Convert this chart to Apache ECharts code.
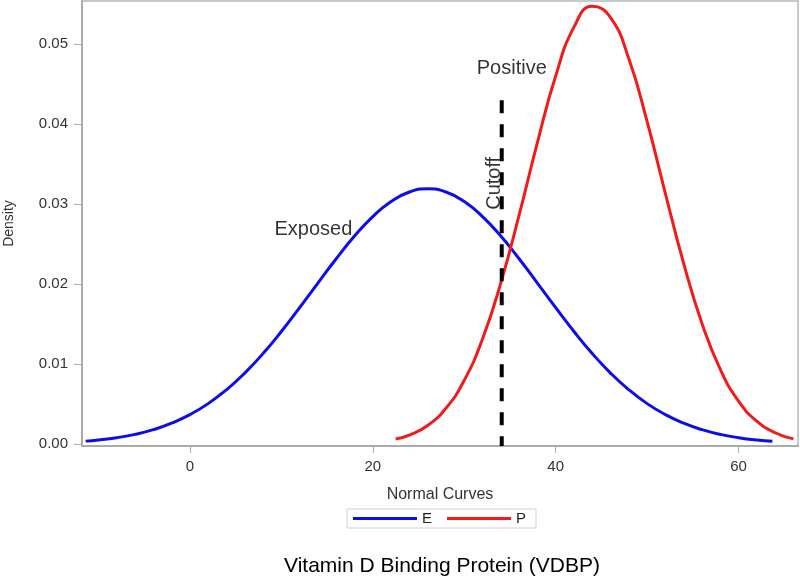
<!DOCTYPE html>
<html>
<head>
<meta charset="utf-8">
<script src="https://cdn.jsdelivr.net/npm/echarts@6/dist/echarts.min.js"></script>
<style>
html,body{margin:0;padding:0;background:#fff;}
#chart{width:800px;height:576px;}
</style>
</head>
<body>
<div id="chart"></div>
<script>
// ---- data ----
const eX = [-11.4, -10, -8, -6, -4, -2, 0, 2, 4, 6, 8, 10, 12, 14, 16, 18, 20, 22, 24, 26, 28, 30, 32, 34, 36, 38, 40, 42, 44, 46, 48, 50, 52, 54, 56, 58, 60, 62, 63.7];
const eY = [0.00036, 0.00050, 0.00079, 0.00120, 0.00179, 0.00260, 0.00367, 0.00505, 0.00678, 0.00887, 0.01131, 0.01407, 0.01705, 0.02013, 0.02317, 0.02600, 0.02844, 0.03032, 0.03151, 0.03191, 0.03151, 0.03032, 0.02844, 0.02600, 0.02317, 0.02013, 0.01705, 0.01407, 0.01131, 0.00887, 0.00678, 0.00505, 0.00367, 0.00260, 0.00179, 0.00120, 0.00079, 0.00050, 0.00034];
const pX = [22.5, 24, 26, 28, 30, 32, 34, 36, 38, 40, 42, 44, 46, 48, 50, 52, 54, 56, 58, 60, 62, 64, 66];
const pY = [0.00062, 0.00112, 0.00232, 0.00447, 0.00796, 0.01314, 0.02014, 0.02861, 0.03770, 0.04602, 0.05213, 0.05475, 0.05333, 0.04817, 0.04033, 0.03132, 0.02257, 0.01507, 0.00933, 0.00535, 0.00285, 0.00141, 0.00064];
const cutoffX = 34.1;
const cutoffTop = 0.043;
const xTicks = [0, 20, 40, 60];
const yTicks = [0, 0.01, 0.02, 0.03, 0.04, 0.05];
const seriesNames = ['E', 'P'];
const annotations = [
  { text: 'Exposed', x: 13.5, y: 0.0268, rotate: 0 },
  { text: 'Positive', x: 35.2, y: 0.0470, rotate: 0 },
  { text: 'Cutoff', x: 33.3, y: 0.0326, rotate: 90 }
];
const titleText = 'Vitamin D Binding Protein (VDBP)';
const xAxisName = 'Normal Curves';
const yAxisName = 'Density';

// ---- chart ----
const FONT = '"Liberation Sans", Arial, sans-serif';
const chart = echarts.init(document.getElementById('chart'), null, { renderer: 'canvas' });
const zip = (xs, ys) => xs.map((x, i) => [x, ys[i]]);

const option = {
  animation: false,
  backgroundColor: '#ffffff',
  textStyle: { fontFamily: FONT },
  title: {
    text: titleText,
    left: 437,
    top: 551,
    textAlign: 'center',
    textStyle: { fontFamily: FONT, fontSize: 21, fontWeight: 'normal', color: '#000' }
  },
  legend: {
    data: seriesNames,
    left: 347,
    top: 509,
    orient: 'horizontal',
    icon: 'rect',
    itemWidth: 64,
    itemHeight: 3,
    itemGap: 15,
    padding: [2, 10, 2, 6],
    borderColor: '#d0d0d0',
    borderWidth: 1,
    textStyle: { fontFamily: FONT, fontSize: 15, color: '#222' }
  },
  grid: {
    left: 82, right: 2, top: 1, bottom: 130,
    containLabel: false,
    outerBoundsMode: 'none',
    show: true,
    borderColor: '#c6caca',
    borderWidth: 2,
    backgroundColor: '#fff'
  },
  xAxis: {
    type: 'value',
    min: -11.8,
    max: 66.5,
    name: xAxisName,
    nameLocation: 'middle',
    nameGap: 41,
    nameTextStyle: { fontFamily: FONT, fontSize: 16, color: '#333' },
    splitLine: { show: false },
    axisLine: { show: true, onZero: false, lineStyle: { color: '#a8acac', width: 2 } },
    axisTick: { show: true, customValues: xTicks, length: 7, lineStyle: { color: '#a8acac', width: 1 } },
    axisLabel: { customValues: xTicks, margin: 13, fontFamily: FONT, fontSize: 15, color: '#333' }
  },
  yAxis: {
    type: 'value',
    min: -0.00025,
    max: 0.0554,
    name: yAxisName,
    nameLocation: 'middle',
    nameGap: 66,
    nameTextStyle: { fontFamily: FONT, fontSize: 14, color: '#333' },
    splitLine: { show: false },
    axisLine: { show: true, onZero: false, lineStyle: { color: '#a8acac', width: 2 } },
    axisTick: { show: true, customValues: yTicks, length: 8, lineStyle: { color: '#a8acac', width: 1 } },
    axisLabel: {
      customValues: yTicks, margin: 14, fontFamily: FONT, fontSize: 15, color: '#333',
      formatter: v => v.toFixed(2)
    }
  },
  series: [
    {
      name: 'E', type: 'line', data: zip(eX, eY), smooth: true, symbol: 'none',
      lineStyle: { color: '#0c0ce6', width: 3 }, itemStyle: { color: '#0c0ce6' }, z: 3
    },
    {
      name: 'P', type: 'line', data: zip(pX, pY), smooth: true, symbol: 'none',
      lineStyle: { color: '#f01c1c', width: 3 }, itemStyle: { color: '#f01c1c' }, z: 3
    },
    {
      name: 'Cutoff', type: 'line', data: [[cutoffX, cutoffTop], [cutoffX, -0.00025]],
      symbol: 'none', lineStyle: { color: '#000', width: 4, type: [13, 11] }, z: 4
    },
    {
      name: 'labels', type: 'scatter', symbolSize: 0, z: 5,
      data: annotations.map(a => ({
        value: [a.x, a.y],
        label: {
          show: true, formatter: a.text, position: 'inside', rotate: a.rotate,
          fontFamily: FONT, fontSize: 20, color: '#000', align: 'center', verticalAlign: 'middle'
        }
      })),
      silent: true
    }
  ]
};
chart.setOption(option);
</script>
</body>
</html>
